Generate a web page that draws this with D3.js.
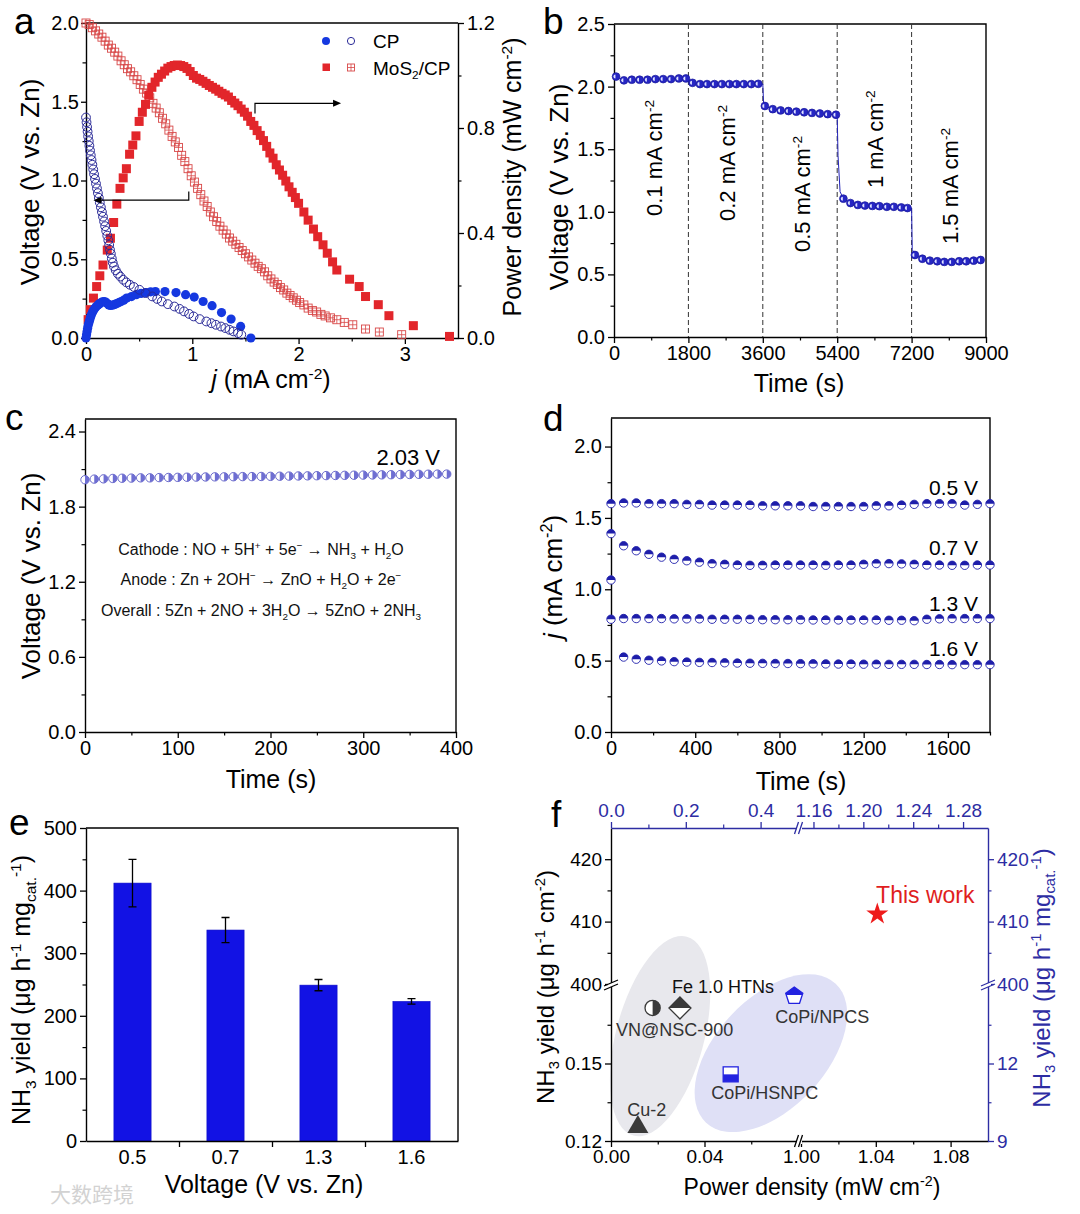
<!DOCTYPE html>
<html><head><meta charset="utf-8">
<script src="https://cdn.jsdelivr.net/npm/d3@7"></script>
<style>body{margin:0;background:#fff}</style>
</head><body>
<svg id="c" width="1080" height="1214" xmlns="http://www.w3.org/2000/svg"></svg>
<script>
// ================= DATA =================
// Panel a : discharge polarization (j in mA cm-2)
const cpVoltage = [[0,1.40],[0.005,1.37],[0.01,1.34],[0.015,1.31],[0.02,1.28],[0.026,1.25],[0.032,1.22],[0.038,1.19],[0.045,1.16],[0.052,1.13],[0.06,1.10],[0.068,1.07],[0.076,1.04],[0.085,1.01],[0.094,0.98],[0.103,0.95],[0.112,0.92],[0.121,0.89],[0.13,0.86],[0.14,0.83],[0.15,0.80],[0.16,0.77],[0.17,0.74],[0.18,0.71],[0.19,0.68],[0.2,0.65],[0.21,0.62],[0.218,0.59],[0.226,0.56],[0.234,0.535],[0.243,0.505],[0.252,0.478],[0.263,0.454],[0.28,0.43],[0.3,0.408],[0.323,0.39],[0.35,0.37],[0.38,0.353],[0.413,0.338],[0.45,0.324],[0.503,0.306],[0.56,0.285],[0.623,0.264],[0.67,0.248],[0.713,0.232],[0.77,0.215],[0.832,0.2],[0.88,0.185],[0.922,0.169],[0.97,0.153],[1.012,0.137],[1.07,0.12],[1.132,0.105],[1.18,0.094],[1.222,0.084],[1.27,0.073],[1.311,0.063],[1.35,0.052],[1.386,0.042],[1.43,0.031],[1.461,0.021]];
const cpPower = [[0,0],[0.005,0.012],[0.01,0.025],[0.015,0.037],[0.02,0.048],[0.027,0.058],[0.034,0.068],[0.042,0.078],[0.05,0.088],[0.06,0.097],[0.07,0.105],[0.082,0.112],[0.095,0.119],[0.11,0.125],[0.125,0.13],[0.14,0.134],[0.155,0.138],[0.17,0.139],[0.185,0.137],[0.2,0.131],[0.215,0.126],[0.23,0.124],[0.25,0.125],[0.27,0.128],[0.29,0.131],[0.31,0.135],[0.33,0.139],[0.355,0.144],[0.383,0.152],[0.428,0.158],[0.473,0.165],[0.518,0.17],[0.563,0.173],[0.608,0.176],[0.653,0.177],[0.743,0.177],[0.847,0.173],[0.937,0.165],[1.018,0.156],[1.102,0.139],[1.186,0.123],[1.275,0.097],[1.365,0.072],[1.455,0.044],[1.551,0.0]];
const mosVoltage = [[0,2.0],[0.03,1.99],[0.06,1.97],[0.09,1.95],[0.12,1.93],[0.15,1.91],[0.18,1.885],[0.21,1.86],[0.24,1.84],[0.27,1.815],[0.3,1.79],[0.33,1.76],[0.36,1.735],[0.39,1.71],[0.42,1.69],[0.45,1.665],[0.48,1.64],[0.51,1.61],[0.54,1.58],[0.57,1.555],[0.6,1.525],[0.63,1.49],[0.66,1.46],[0.69,1.43],[0.72,1.395],[0.75,1.36],[0.78,1.32],[0.81,1.28],[0.84,1.245],[0.87,1.21],[0.9,1.16],[0.93,1.12],[0.96,1.075],[0.99,1.03],[1.02,0.99],[1.05,0.95],[1.08,0.91],[1.11,0.87],[1.14,0.835],[1.17,0.8],[1.2,0.77],[1.23,0.74],[1.26,0.71],[1.29,0.685],[1.32,0.66],[1.35,0.635],[1.38,0.615],[1.41,0.595],[1.44,0.575],[1.47,0.555],[1.5,0.535],[1.53,0.515],[1.56,0.495],[1.59,0.475],[1.62,0.455],[1.65,0.44],[1.68,0.42],[1.71,0.395],[1.74,0.375],[1.77,0.355],[1.8,0.34],[1.83,0.32],[1.86,0.305],[1.89,0.285],[1.92,0.27],[1.95,0.255],[1.98,0.24],[2.01,0.225],[2.05,0.21],[2.09,0.19],[2.13,0.175],[2.17,0.165],[2.21,0.15],[2.25,0.14],[2.3,0.128],[2.36,0.116],[2.43,0.099],[2.51,0.084],[2.63,0.057],[2.76,0.038],[2.97,0.021]];
const mosPower = [[0.02,0.07],[0.04,0.108],[0.07,0.152],[0.1,0.196],[0.13,0.237],[0.16,0.278],[0.2,0.335],[0.23,0.38],[0.26,0.44],[0.29,0.51],[0.32,0.57],[0.35,0.61],[0.38,0.645],[0.41,0.7],[0.44,0.735],[0.47,0.77],[0.5,0.825],[0.53,0.86],[0.56,0.89],[0.59,0.925],[0.62,0.955],[0.65,0.975],[0.68,0.993],[0.71,1.005],[0.74,1.017],[0.77,1.028],[0.8,1.034],[0.83,1.038],[0.86,1.04],[0.89,1.038],[0.92,1.034],[0.95,1.027],[0.98,1.015],[1.01,1.0],[1.04,0.99],[1.07,0.985],[1.1,0.978],[1.13,0.97],[1.16,0.962],[1.19,0.955],[1.22,0.948],[1.25,0.94],[1.28,0.932],[1.31,0.926],[1.34,0.918],[1.37,0.905],[1.4,0.895],[1.43,0.885],[1.46,0.872],[1.49,0.86],[1.52,0.845],[1.55,0.825],[1.58,0.81],[1.61,0.79],[1.64,0.772],[1.67,0.752],[1.7,0.73],[1.73,0.705],[1.76,0.685],[1.79,0.66],[1.82,0.64],[1.85,0.62],[1.88,0.598],[1.91,0.576],[1.94,0.555],[1.97,0.535],[2.0,0.513],[2.05,0.48],[2.09,0.449],[2.14,0.415],[2.18,0.386],[2.23,0.355],[2.27,0.323],[2.32,0.29],[2.36,0.259],[2.48,0.224],[2.57,0.196],[2.63,0.158],[2.75,0.127],[2.85,0.085],[3.08,0.047],[3.42,0.006]];
const legendA = ["CP", "MoS_{2}/CP"];

// Panel b : step discharge
const bTime = [50,240,430,620,810,1000,1190,1380,1570,1740, 1900,2080,2250,2430,2610,2790,2960,3140,3320,3490, 3650,3840,4030,4220,4410,4600,4790,4980,5170,5370, 5550,5720,5900,6070,6250,6420,6600,6770,6950,7100, 7280,7460,7640,7820,7990,8170,8350,8520,8700,8870];
const bVolt = [2.08,2.05,2.055,2.055,2.055,2.06,2.06,2.06,2.065,2.065, 2.03,2.02,2.02,2.02,2.02,2.02,2.02,2.02,2.02,2.022, 1.845,1.82,1.81,1.805,1.8,1.795,1.79,1.785,1.78,1.775, 1.105,1.07,1.055,1.05,1.047,1.045,1.04,1.04,1.035,1.03, 0.655,0.625,0.61,0.605,0.6,0.6,0.605,0.605,0.61,0.615];
const bStepTime = [1800,3600,5400,7200];
const bStepTrace = [[1740,2.065],[1800,2.065],[1830,2.03],[3490,2.022],[3600,2.02],[3620,1.86],[5370,1.775],[5400,1.77],[5420,1.45],[5470,1.16],[5550,1.105],[7100,1.03],[7200,1.03],[7215,0.7],[7280,0.655]];
const bLabels = ["0.1 mA cm^{-2}","0.2 mA cm^{-2}","0.5 mA cm^{-2}","1 mA cm^{-2}","1.5 mA cm^{-2}"];

// Panel c : long discharge at 2.03 V
const cTime = d3.range(0, 400, 10);
const cVolt = [2.015,2.02,2.022,2.025,2.027,2.028,2.03,2.03,2.032,2.033,2.034,2.035,2.036,2.037,2.038,2.038,2.039,2.04,2.04,2.041,2.042,2.043,2.044,2.045,2.046,2.047,2.048,2.049,2.05,2.051,2.052,2.053,2.054,2.055,2.056,2.057,2.058,2.059,2.06,2.06];
const cEquations = ["Cathode : NO + 5H^{+} + 5e^{−} → NH_{3} + H_{2}O","Anode :  Zn + 2OH^{−} → ZnO + H_{2}O + 2e^{−}","Overall : 5Zn + 2NO + 3H_{2}O → 5ZnO + 2NH_{3}"];

// Panel d : chronoamperometry
const dTime = d3.range(0, 1801, 60);
const dLabels = ["0.5 V","0.7 V","1.3 V","1.6 V"];
const d05 = [1.60,1.605,1.605,1.60,1.60,1.60,1.595,1.595,1.59,1.59,1.59,1.59,1.585,1.585,1.585,1.585,1.58,1.58,1.58,1.58,1.58,1.585,1.585,1.59,1.595,1.6,1.6,1.6,1.59,1.595,1.6];
const d07 = [1.39,1.305,1.27,1.245,1.225,1.21,1.2,1.19,1.18,1.175,1.17,1.168,1.168,1.17,1.17,1.17,1.17,1.168,1.17,1.17,1.175,1.18,1.18,1.178,1.175,1.17,1.17,1.168,1.168,1.17,1.17];
const d13 = [0.79,0.795,0.795,0.795,0.795,0.793,0.793,0.793,0.79,0.79,0.79,0.79,0.787,0.787,0.787,0.787,0.785,0.785,0.785,0.785,0.785,0.785,0.783,0.783,0.78,0.79,0.793,0.795,0.795,0.795,0.795];
const d16 = [1.065,0.525,0.51,0.503,0.498,0.493,0.49,0.488,0.487,0.485,0.483,0.482,0.481,0.48,0.48,0.479,0.478,0.477,0.476,0.476,0.475,0.475,0.474,0.474,0.474,0.473,0.473,0.472,0.472,0.472,0.472];

// Panel e : NH3 yield
const eVoltages = ["0.5","0.7","1.3","1.6"];
const eYield = [412, 337, 249, 223];
const eError = [38, 20, 9, 4.5];

// Panel f : comparison
const fBlackNames = ["Cu-2","VN@NSC-900","Fe 1.0 HTNs"];
const fBlackPower = [0.0115, 0.0178, 0.0295];       // mW cm-2 (bottom axis)
const fBlackYield = [0.1254, 0.1715, 0.1715];       // ug h-1 cm-2 (left axis)
const fBlueNames = ["CoPi/NPCS","CoPi/HSNPC"];
const fBluePower = [0.49, 0.32];                    // top axis
const fBlueYield = [14.65, 11.58];                  // right axis
const fThisName = "This work";
const fThisPower = 1.0408, fThisYield = 411.2;

// ================= HELPERS =================
const FONT = "Arial, 'Liberation Sans', Helvetica, sans-serif";
const svg = d3.select('#c');
const BLUEAX = '#2d2da3';

function rich(sel, str, fs){
  const parts = str.split(/(\^\{[^}]*\}|_\{[^}]*\}|\$[^$]*\$)/).filter(s=>s.length);
  let shift = 0;
  parts.forEach(p=>{
    let t, dy=0, size=fs, it=false;
    if(p.startsWith('^{')){t=p.slice(2,-1); size=fs*0.62; dy=-fs*0.38;}
    else if(p.startsWith('_{')){t=p.slice(2,-1); size=fs*0.62; dy=fs*0.22;}
    else if(p.startsWith('$')){t=p.slice(1,-1); it=true;}
    else t=p;
    const ts = sel.append('tspan').text(t).attr('font-size', size);
    const d = dy - shift; if(d) ts.attr('dy', d.toFixed(2)); shift = dy;
    if(it) ts.attr('font-style','italic');
  });
  return sel;
}
function txt(g, x, y, str, fs, o={}){
  const t = g.append('text').attr('font-family', FONT).attr('font-size', fs)
    .attr('fill', o.color||'#000').attr('text-anchor', o.anchor||'start');
  if(o.rot) t.attr('transform', `translate(${x},${y}) rotate(${o.rot})`);
  else t.attr('x', x).attr('y', y);
  rich(t, str, fs);
  return t;
}
function axis(g, scale, orient, major, minor, fmt, o={}){
  const mk = {bottom:d3.axisBottom, top:d3.axisTop, left:d3.axisLeft, right:d3.axisRight}[orient];
  const col = o.color||'#000';
  if(minor && minor.length){
    const m = g.append('g').attr('transform', o.tr).attr('color', col)
      .call(mk(scale).tickValues(minor).tickSize(o.minor||3.5).tickSizeOuter(0).tickFormat(''));
    m.select('.domain').remove();
    m.selectAll('line').attr('stroke-width', 1.2);
  }
  const a = g.append('g').attr('transform', o.tr).attr('color', col)
    .call(mk(scale).tickValues(major).tickSize(o.size||6).tickSizeOuter(0).tickPadding(o.pad==null?3:o.pad).tickFormat(fmt));
  a.select('.domain').attr('stroke-width', 1.4);
  a.selectAll('.tick line').attr('stroke-width', 1.3);
  a.selectAll('text').attr('font-size', o.fs||20).attr('font-family', FONT).attr('fill', col);
  return a;
}
function frame(g, L, R, T, B){
  g.append('path').attr('d', `M${L},${T}H${R}V${B}`).attr('fill','none').attr('stroke','#000').attr('stroke-width',1.4);
}
function halfPath(r, side){
  if(side==='top') return `M${-r},0A${r},${r} 0 0 1 ${r},0Z`;
  if(side==='bottom') return `M${-r},0A${r},${r} 0 0 0 ${r},0Z`;
  if(side==='right') return `M0,${-r}A${r},${r} 0 0 1 0,${r}Z`;
  return `M0,${-r}A${r},${r} 0 0 0 0,${r}Z`;
}
function panelLabel(x, y, s){
  svg.append('text').attr('x',x).attr('y',y).attr('font-family',FONT).attr('font-size',37).text(s);
}
const defs = svg.append('defs');
defs.append('clipPath').attr('id','clipTop').append('rect').attr('x',-20).attr('y',-20).attr('width',40).attr('height',20);
defs.append('clipPath').attr('id','clipBottom').append('rect').attr('x',-20).attr('y',0).attr('width',40).attr('height',20);
defs.append('clipPath').attr('id','clipRight').append('rect').attr('x',0).attr('y',-20).attr('width',20).attr('height',40);

// ================= PANEL A =================
{
  const L=86, R=458, T=23, B=338;
  const x = d3.scaleLinear([0,3.5],[L,R]);
  const yl = d3.scaleLinear([0,2],[B,T]);
  const yr = d3.scaleLinear([0,1.2],[B,T]);
  const g = svg.append('g');
  axis(g, x, 'bottom', [0,1,2,3], [0.5,1.5,2.5], d3.format('d'), {tr:`translate(0,${B})`});
  axis(g, yl, 'left', [0,0.5,1,1.5,2], [0.25,0.75,1.25,1.75], d3.format('.1f'), {tr:`translate(${L},0)`, size:5, pad:2});
  axis(g, yr, 'right', [0,0.4,0.8,1.2], [0.2,0.6,1.0], d3.format('.1f'), {tr:`translate(${R},0)`});
  g.append('line').attr('x1',L).attr('x2',R).attr('y1',T).attr('y2',T).attr('stroke','#000').attr('stroke-width',1.4);

  // MoS2/CP voltage: crossed open squares
  const sq = 8;
  const cs = g.append('g').selectAll('g').data(mosVoltage).join('g')
    .attr('transform', d=>`translate(${x(d[0])},${yl(d[1])})`);
  cs.append('rect').attr('x',-sq/2).attr('y',-sq/2).attr('width',sq).attr('height',sq)
    .attr('fill','none').attr('stroke','#d84848').attr('stroke-width',0.9);
  cs.append('path').attr('d',`M${-sq/2},0H${sq/2}M0,${-sq/2}V${sq/2}`).attr('stroke','#d84848').attr('stroke-width',0.8);
  // MoS2/CP power: filled squares
  g.append('g').selectAll('rect').data(mosPower).join('rect')
    .attr('x', d=>x(d[0])-4.5).attr('y', d=>yr(d[1])-4.5).attr('width',9).attr('height',9)
    .attr('fill','#e2262b');
  // CP power: filled circles
  g.append('g').selectAll('circle').data(cpPower).join('circle')
    .attr('cx', d=>x(d[0])).attr('cy', d=>yr(d[1])).attr('r',4.6).attr('fill','#1538e0');
  // CP voltage: open circles
  g.append('g').selectAll('circle').data(cpVoltage).join('circle')
    .attr('cx', d=>x(d[0])).attr('cy', d=>yl(d[1])).attr('r',4.4)
    .attr('fill','none').attr('stroke','#2a2a98').attr('stroke-width',1);

  // arrows
  const ln = (d)=>g.append('path').attr('d',d).attr('fill','none').attr('stroke','#000').attr('stroke-width',1.2);
  ln(`M${x(0.967)},${yl(0.93)}V${yl(0.875)}H${x(0.07)+6}`);
  g.append('path').attr('d',`M${x(0.07)},${yl(0.875)}l8,-3.5v7z`).attr('fill','#000');
  ln(`M${x(1.59)},${yl(1.425)}V${yl(1.49)}H${x(2.40)-6}`);
  g.append('path').attr('d',`M${x(2.40)},${yl(1.49)}l-8,-3.5v7z`).attr('fill','#000');

  // legend
  g.append('circle').attr('cx',326).attr('cy',41).attr('r',4).attr('fill','#1538e0');
  g.append('circle').attr('cx',351).attr('cy',41).attr('r',3.6).attr('fill','none').attr('stroke','#2a2a98').attr('stroke-width',1);
  g.append('rect').attr('x',322.5).attr('y',63.5).attr('width',7.5).attr('height',7.5).attr('fill','#e2262b');
  g.append('rect').attr('x',347.5).attr('y',64).attr('width',7).attr('height',7).attr('fill','none').attr('stroke','#d84848').attr('stroke-width',0.9);
  g.append('path').attr('d','M347.5,67.5h7M351,64v7').attr('stroke','#d84848').attr('stroke-width',0.8);
  txt(g, 373, 48, legendA[0], 19);
  txt(g, 373, 75, legendA[1], 19);

  txt(g, 39, 182, 'Voltage (V vs. Zn)', 26, {rot:-90, anchor:'middle'});
  txt(g, 521, 177, 'Power density (mW cm^{-2})', 25, {rot:-90, anchor:'middle'});
  txt(g, 271, 388, '$j$ (mA cm^{-2})', 25, {anchor:'middle'});
  panelLabel(14, 34, 'a');
}

// ================= PANEL B =================
{
  const L=614, R=986, T=24, B=337;
  const x = d3.scaleLinear([0,9000],[L,R]);
  const y = d3.scaleLinear([0,2.5],[B,T]);
  const g = svg.append('g');
  axis(g, x, 'bottom', [0,1800,3600,5400,7200,9000], [900,2700,4500,6300,8100], d3.format('d'), {tr:`translate(0,${B})`});
  axis(g, y, 'left', [0,0.5,1,1.5,2,2.5], [0.25,0.75,1.25,1.75,2.25], d3.format('.1f'), {tr:`translate(${L},0)`});
  frame(g, L, R, T, B);
  g.append('g').selectAll('line').data(bStepTime).join('line')
    .attr('x1', d=>x(d)).attr('x2', d=>x(d)).attr('y1', T).attr('y2', B)
    .attr('stroke','#333').attr('stroke-width',1).attr('stroke-dasharray','5,3');
  const pts = bTime.map((t,i)=>[t,bVolt[i]]).concat(bStepTrace).sort((a,b)=>a[0]-b[0]);
  g.append('path').attr('d', d3.line().x(d=>x(d[0])).y(d=>y(d[1]))(pts))
    .attr('fill','none').attr('stroke','#2323b8').attr('stroke-width',1);
  const m = g.append('g').selectAll('g').data(bTime.map((t,i)=>[t,bVolt[i]])).join('g')
    .attr('transform', d=>`translate(${x(d[0])},${y(d[1])})`);
  m.append('circle').attr('r',3.9).attr('fill','#2626c4').attr('stroke','#1a1a9a').attr('stroke-width',0.7);
  m.append('path').attr('d', halfPath(2.0,'left')).attr('fill','#dfe3ff').attr('transform','translate(-0.6,0)');

  const lp = [[1161,1.43],[2927,1.39],[4742,1.142],[6508,1.58],[8323,1.206]];
  bLabels.forEach((s,i)=> txt(g, x(lp[i][0]), y(lp[i][1]), s, 22, {rot:-90, anchor:'middle'}));
  txt(g, 568, 187, 'Voltage (V vs. Zn)', 26, {rot:-90, anchor:'middle'});
  txt(g, 799, 392, 'Time (s)', 25, {anchor:'middle'});
  panelLabel(543, 34, 'b');
}

// ================= PANEL C =================
{
  const L=85, R=456, T=419, B=732;
  const x = d3.scaleLinear([0,400],[L,R]);
  const y = d3.scaleLinear([0,2.5],[B,T]);
  const g = svg.append('g');
  axis(g, x, 'bottom', [0,100,200,300,400], [50,150,250,350], d3.format('d'), {tr:`translate(0,${B})`});
  axis(g, y, 'left', [0,0.6,1.2,1.8,2.4], [0.3,0.9,1.5,2.1], d3.format('.1f'), {tr:`translate(${L},0)`});
  frame(g, L, R, T, B);
  const m = g.append('g').selectAll('g').data(cTime.map((t,i)=>[t,cVolt[i]])).join('g')
    .attr('transform', d=>`translate(${x(d[0])},${y(d[1])})`);
  m.append('circle').attr('r',4.2).attr('fill','#fff').attr('stroke','#5a5ac4').attr('stroke-width',0.9);
  m.append('path').attr('d', halfPath(4.2,'right')).attr('fill','#6e6ed2');
  txt(g, 440, 465, '2.03 V', 22, {anchor:'end'});
  const ey = [555, 585, 616];
  cEquations.forEach((s,i)=> txt(g, 261, ey[i], s, 16, {anchor:'middle', color:'#111'}));
  txt(g, 40, 576, 'Voltage (V vs. Zn)', 26, {rot:-90, anchor:'middle'});
  txt(g, 271, 788, 'Time (s)', 25, {anchor:'middle'});
  panelLabel(5, 430, 'c');
}

// ================= PANEL D =================
{
  const L=611, R=990, T=418, B=732;
  const x = d3.scaleLinear([0,1800],[L,R]);
  const y = d3.scaleLinear([0,2.2],[B,T]);
  const g = svg.append('g');
  axis(g, x, 'bottom', [0,400,800,1200,1600], [200,600,1000,1400,1800], d3.format('d'), {tr:`translate(0,${B})`});
  axis(g, y, 'left', [0,0.5,1,1.5,2], [0.25,0.75,1.25,1.75], d3.format('.1f'), {tr:`translate(${L},0)`});
  frame(g, L, R, T, B);
  [d05,d07,d13,d16].forEach(series=>{
    const m = g.append('g').selectAll('g').data(dTime.map((t,i)=>[t,series[i]])).join('g')
      .attr('transform', d=>`translate(${x(d[0])},${y(d[1])})`);
    m.append('circle').attr('r',4.2).attr('fill','#fff').attr('stroke','#1e1eaa').attr('stroke-width',0.9);
    m.append('path').attr('d', halfPath(4.2,'top')).attr('fill','#1e1eaa');
  });
  const ly = [495, 555, 611, 656];
  dLabels.forEach((s,i)=> txt(g, 978, ly[i], s, 21, {anchor:'end'}));
  txt(g, 562, 577, '$j$ (mA cm^{-2})', 26, {rot:-90, anchor:'middle'});
  txt(g, 801, 790, 'Time (s)', 25, {anchor:'middle'});
  panelLabel(543, 431, 'd');
}

// ================= PANEL E =================
{
  const L=86, R=458, T=828, B=1141;
  const xb = d3.scaleBand(eVoltages, [L,R]).padding(0);
  const xi = d3.scaleLinear([0,4],[L,R]);
  const y = d3.scaleLinear([0,500],[B,T]);
  const g = svg.append('g');
  const bw = xb.bandwidth()*0.4;
  g.append('g').selectAll('rect').data(eVoltages).join('rect')
    .attr('x', (d)=>xb(d)+xb.bandwidth()/2-bw/2).attr('width', bw)
    .attr('y', (d,i)=>y(eYield[i])).attr('height', (d,i)=>y(0)-y(eYield[i]))
    .attr('fill','#1212e4').attr('stroke','#0c0cc8').attr('stroke-width',0.6);
  const eb = g.append('g').selectAll('g').data(eVoltages).join('g')
    .attr('transform', d=>`translate(${xb(d)+xb.bandwidth()/2},0)`);
  eb.append('path').attr('d', (d,i)=>`M0,${y(eYield[i]-eError[i])}V${y(eYield[i]+eError[i])}M-4,${y(eYield[i]+eError[i])}h8M-4,${y(eYield[i]-eError[i])}h8`)
    .attr('stroke','#000').attr('stroke-width',1.3).attr('fill','none');
  axis(g, xi, 'bottom', [1,2,3], null, '', {tr:`translate(0,${B})`});
  const lab = g.append('g').attr('transform',`translate(0,${B})`).call(d3.axisBottom(xb).tickSize(0).tickPadding(9));
  lab.select('.domain').remove();
  lab.selectAll('text').attr('font-size',20).attr('font-family',FONT);
  axis(g, y, 'left', [0,100,200,300,400,500], [50,150,250,350,450], d3.format('d'), {tr:`translate(${L},0)`});
  frame(g, L, R, T, B);
  txt(g, 30, 990, 'NH_{3} yield (μg h^{-1} mg_{cat.}^{-1})', 25, {rot:-90, anchor:'middle'});
  txt(g, 264, 1193, 'Voltage (V vs. Zn)', 25, {anchor:'middle'});
  panelLabel(9, 835, 'e');
  svg.append('text').attr('x',50).attr('y',1202).attr('font-family',"'Noto Sans CJK SC', sans-serif")
    .attr('font-size',21).attr('fill','#d2d2d2').text('大数跨境');
}

// ================= PANEL F =================
{
  const L=611, R=988, T=828, B=1141, XB1=798, XB2=801, YB1=986, YB2=984;
  const xL = d3.scaleLinear([0,0.08],[L,XB1]);
  const xR = d3.scaleLinear([1.0,1.10],[XB2,R]);
  const xTL = d3.scaleLinear([0,0.5],[L,XB1]);
  const xTR = d3.scaleLinear([1.15,1.30],[XB2,R]);
  const yLow = d3.scaleLinear([0.12,0.18],[B,YB1]);
  const yUp = d3.scaleLinear([400,425],[YB2,T]);
  const yRLow = d3.scaleLinear([9,15],[B,YB1]);
  const g = svg.append('g');

  const gc = [xL(0.021), yLow(0.1606)], bc = [xL(0.0684), yLow(0.154)];
  g.append('ellipse').attr('rx',44).attr('ry',103).attr('fill','#e8e8ed')
    .attr('transform',`translate(${gc[0]},${gc[1]}) rotate(15)`);
  g.append('ellipse').attr('rx',95).attr('ry',55).attr('fill','#dfe0f6')
    .attr('transform',`translate(${bc[0]},${bc[1]}) rotate(-47)`);

  const F = 19;
  axis(g, xL, 'bottom', [0,0.04], [0.02,0.06], d3.format('.2f'), {tr:`translate(0,${B})`, fs:F});
  axis(g, xR, 'bottom', [1.0,1.04,1.08], [1.02,1.06], d3.format('.2f'), {tr:`translate(0,${B})`, fs:F});
  axis(g, yLow, 'left', [0.12,0.15], [0.135,0.165], d3.format('.2f'), {tr:`translate(${L},0)`, fs:F});
  axis(g, yUp, 'left', [400,410,420], [405,415], d3.format('d'), {tr:`translate(${L},0)`, fs:F});
  axis(g, xTL, 'top', [0,0.2,0.4], [0.1,0.3], d3.format('.1f'), {tr:`translate(0,${T})`, fs:F, color:BLUEAX, pad:5});
  axis(g, xTR, 'top', [1.16,1.20,1.24,1.28], [1.18,1.22,1.26], d3.format('.2f'), {tr:`translate(0,${T})`, fs:F, color:BLUEAX, pad:5});
  axis(g, yRLow, 'right', [9,12], [10.5,13.5], d3.format('d'), {tr:`translate(${R},0)`, fs:F, color:BLUEAX});
  axis(g, yUp, 'right', [400,410,420], [405,415], d3.format('d'), {tr:`translate(${R},0)`, fs:F, color:BLUEAX});

  function hBreak(xc, yc, col){
    g.append('rect').attr('x',xc-2.5).attr('y',yc-3).attr('width',5).attr('height',6).attr('fill','#fff');
    g.append('path').attr('d',`M${xc-5},${yc+6}L${xc-1},${yc-6}M${xc-1},${yc+6}L${xc+3},${yc-6}`)
      .attr('stroke',col).attr('stroke-width',1.3);
  }
  function vBreak(xc, yc, col){
    g.append('rect').attr('x',xc-3).attr('y',yc-2).attr('width',6).attr('height',4).attr('fill','#fff');
    g.append('path').attr('d',`M${xc-7},${yc+1}L${xc+7},${yc-5}M${xc-7},${yc+5}L${xc+7},${yc-1}`)
      .attr('stroke',col).attr('stroke-width',1.3);
  }
  hBreak(799.5, B, '#000');
  hBreak(799.5, T, BLUEAX);
  vBreak(L, 985, '#000');
  vBreak(R, 985, BLUEAX);

  const DARK = '#3a3a3a', BL = '#2323e0';
  const bp = fBlackPower.map((p,i)=>[xL(p), yLow(fBlackYield[i])]);
  g.append('path').attr('d', d3.symbol(d3.symbolTriangle, 190)()).attr('fill', DARK)
    .attr('transform', `translate(${bp[0][0]},${bp[0][1]})`);
  const vn = g.append('g').attr('transform', `translate(${bp[1][0]},${bp[1][1]})`);
  vn.append('circle').attr('r',7.6).attr('fill','#fff').attr('stroke',DARK).attr('stroke-width',1.3);
  vn.append('path').attr('d', halfPath(7.6,'right')).attr('fill',DARK);
  const dia = 'M0,-11L11,0L0,11L-11,0Z';
  const fe = g.append('g').attr('transform', `translate(${bp[2][0]},${bp[2][1]})`);
  fe.append('path').attr('d', dia).attr('fill','#fff').attr('stroke',DARK).attr('stroke-width',1.3);
  fe.append('path').attr('d', dia).attr('fill',DARK).attr('clip-path','url(#clipTop)');
  const up = fBluePower.map((p,i)=>[xTL(p), yRLow(fBlueYield[i])]);
  const pent = d3.range(5).map(k=>{const a=-Math.PI/2+k*2*Math.PI/5; return [9*Math.cos(a), 9*Math.sin(a)+1];});
  const pentD = 'M'+pent.map(p=>p.join(',')).join('L')+'Z';
  const np = g.append('g').attr('transform', `translate(${up[0][0]},${up[0][1]})`);
  np.append('path').attr('d', pentD).attr('fill','#fff').attr('stroke',BL).attr('stroke-width',1.3);
  np.append('path').attr('d', pentD).attr('fill',BL).attr('clip-path','url(#clipTop)');
  const hs = g.append('g').attr('transform', `translate(${up[1][0]},${up[1][1]})`);
  hs.append('rect').attr('x',-7.5).attr('y',-7.5).attr('width',15).attr('height',15).attr('fill','#fff').attr('stroke',BL).attr('stroke-width',1.3);
  hs.append('rect').attr('x',-7.5).attr('y',0).attr('width',15).attr('height',7.5).attr('fill',BL);
  const sx = xR(fThisPower), sy = yUp(fThisYield);
  g.append('path').attr('d', d3.symbol(d3.symbolStar, 150)()).attr('fill','#ee1b1b')
    .attr('transform', `translate(${sx},${sy})`);

  const LF = 18, LC = '#333';
  txt(g, bp[0][0]+9, bp[0][1]-11, fBlackNames[0], LF, {anchor:'middle', color:LC});
  txt(g, bp[1][0]+22, bp[1][1]+28, fBlackNames[1], LF, {anchor:'middle', color:LC});
  txt(g, bp[2][0]+43, bp[2][1]-15, fBlackNames[2], LF, {anchor:'middle', color:'#111'});
  txt(g, up[0][0]+28, up[0][1]+28, fBlueNames[0], LF, {anchor:'middle', color:LC});
  txt(g, up[1][0]+34, up[1][1]+25, fBlueNames[1], LF, {anchor:'middle', color:LC});
  txt(g, sx+48, sy-11, fThisName, 23, {anchor:'middle', color:'#e01e1e'});

  txt(g, 554, 987, 'NH_{3} yield (μg h^{-1} cm^{-2})', 24, {rot:-90, anchor:'middle'});
  txt(g, 1050, 978, 'NH_{3} yield (μg h^{-1} mg_{cat.}^{-1})', 24, {rot:-90, anchor:'middle', color:BLUEAX});
  txt(g, 812, 1195, 'Power density (mW cm^{-2})', 23, {anchor:'middle'});
  panelLabel(551, 827, 'f');
}
</script>
</body></html>
